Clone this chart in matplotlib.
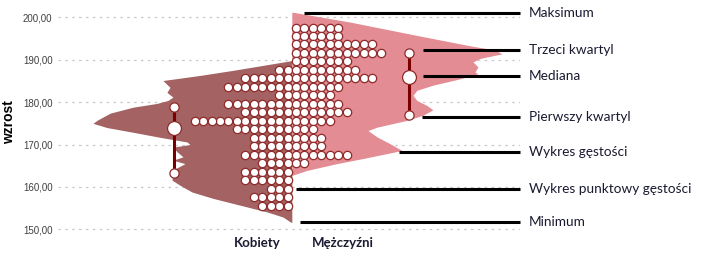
import matplotlib.pyplot as plt
import numpy as np

# wiersze wykresu punktowego (srodki przedzialow wzrostu)
wiersze = [197.6, 195.6, 193.6, 191.6, 189.6, 187.6, 185.6, 183.6, 181.6, 179.6, 177.6,
           175.6, 173.6, 171.6, 169.6, 167.6, 165.6, 163.6, 161.6, 159.6, 157.6, 155.6]
kobiety = [0, 0, 0, 0, 0, 2, 6, 8, 2, 8, 6, 12, 7, 5, 5, 6, 4, 6, 6, 3, 5, 4]
mezczyzni = [6, 6, 10, 11, 7, 8, 10, 6, 5, 6, 7, 5, 3, 4, 4, 7, 2, 0, 0, 0, 0, 0]

# kwartyle: pierwszy, mediana, trzeci
kobiety_kw = [163.4, 173.9, 178.8]
mezczyzni_kw = [176.9, 185.9, 191.7]

# obrys wykresu gestosci (wzrost, szerokosc)
kob_h = [189.8, 187.5, 186.3, 185.1, 183.5, 182.3, 181.2, 180.4, 179.7, 178.8, 177.4, 175.7,
         175.0, 174.0, 172.9, 171.7, 170.6, 170.0, 169.4, 168.3, 167.1, 166.3, 165.5, 164.0,
         161.6, 160.4, 158.8, 157.3, 155.7, 154.1, 152.9, 151.8, 151.6]
kob_w = [0, 6.96, 10.87, 15.25, 14.42, 14.78, 14.07, 14.66, 15.96, 18.8, 21.5, 23.06,
         23.53, 21.87, 18.8, 15.6, 12.4, 12.05, 14.07, 13.59, 12.88, 14.07, 12.64, 14.07,
         14.18, 13.24, 11.82, 9.33, 6.14, 2.94, 1.05, 0.22, 0]
mez_h = [201.25, 198.9, 195.6, 193.3, 192.3, 191.4, 190.3, 189.5, 188.3, 187.1, 186.7, 185.5,
         184.0, 182.8, 181.6, 180.4, 179.2, 178.2, 176.9, 175.7, 174.1, 173.3, 171.8, 170.2,
         168.6, 166.7, 165.5, 163.9, 162.7]
mez_w = [0, 6.87, 15.16, 21.08, 24.04, 24.87, 22.27, 21.44, 22.03, 21.67, 22.03, 19.9,
         16.7, 14.8, 14.34, 14.8, 15.99, 16.7, 15.52, 13.63, 10.08, 9.01, 10.08, 11.62,
         13.03, 8.42, 5.34, 1.79, 0]

opisy = ["Maksimum", "Trzeci kwartyl", "Mediana", "Pierwszy kwartyl",
         "Wykres gęstości", "Wykres punktowy gęstości", "Minimum"]
opisy_h = [201.1, 192.2, 186.1, 176.4, 168.3, 159.6, 151.8]
opisy_od = [1.44, 15.5, 15.5, 15.4, 12.68, 0.49, 0.96]

yticks = [150, 160, 170, 180, 190, 200]
ylabels = ["150,00", "160,00", "170,00", "180,00", "190,00", "200,00"]

ciemny = '#a46262'
jasny = '#e48c93'
obwodka = '#8e2a2a'
bordo = '#7a0000'
tekst = '#1a1a30'

fig = plt.figure(figsize=(7.09, 2.59), dpi=100)
ax = fig.add_axes([0.0818, 0.0819, 0.6516, 0.892])
xmin, xmax = -27.67, 27.0
ax.set_xlim(xmin, xmax)
ax.set_ylim(148, 202.5)

ax.hlines(yticks, xmin, xmax, colors='#c8c8c8', linestyles=(0, (2, 3.5)), lw=0.9, zorder=0)

# gestosc
ax.fill_betweenx(kob_h, -np.array(kob_w), 0, color=ciemny, lw=0, zorder=1)
ax.fill_betweenx(mez_h, 0, mez_w, color=jasny, lw=0, zorder=1)

# punkty
for h, nk, nm in zip(wiersze, kobiety, mezczyzni):
    if nk:
        xs = -0.5 - np.arange(nk)
        ax.scatter(xs, [h] * nk, s=36, c='white', edgecolors=obwodka, linewidths=0.9, zorder=3)
    if nm:
        xs = 0.5 + np.arange(nm)
        ax.scatter(xs, [h] * nm, s=36, c='white', edgecolors=obwodka, linewidths=0.9, zorder=3)

# kwartyle
for x, kw in [(-13.95, kobiety_kw), (13.86, mezczyzni_kw)]:
    ax.plot([x, x], [kw[0], kw[2]], color=bordo, lw=2.2, zorder=4, solid_capstyle='butt')
    ax.scatter([x, x], [kw[0], kw[2]], s=44, c='white', edgecolors=obwodka, linewidths=0.9, zorder=5)
    ax.scatter([x], [kw[1]], s=100, c='white', edgecolors=obwodka, linewidths=0.9, zorder=5)

# opisy
for napis, h, od in zip(opisy, opisy_h, opisy_od):
    ax.plot([od, xmax], [h, h], color='black', lw=2.2, zorder=6, solid_capstyle='butt', clip_on=False)
    ax.text(xmax + 1.07, h, napis, va='center', ha='left', fontsize=9.8, family='Lato', color=tekst)

ax.text(-4.12, 146.8, "Kobiety", ha='center', va='center', fontsize=9.5, fontweight='bold',
        family='Lato', color=tekst)
ax.text(6.05, 146.8, "Mężczyźni", ha='center', va='center', fontsize=9.5, fontweight='bold',
        family='Lato', color=tekst)

ax.set_yticks(yticks)
ax.set_yticklabels(ylabels, fontsize=7, family='Liberation Sans', color='#404040')
ax.tick_params(axis='y', length=0, pad=4)
ax.set_xticks([])
for s in ax.spines.values():
    s.set_visible(False)

fig.text(9 / 709, 1 - 122 / 259, "wzrost", rotation=90, ha='center', va='center',
         fontsize=10, fontweight='bold', family='Liberation Sans', color='black')

fig.savefig('out.png', dpi=100)
